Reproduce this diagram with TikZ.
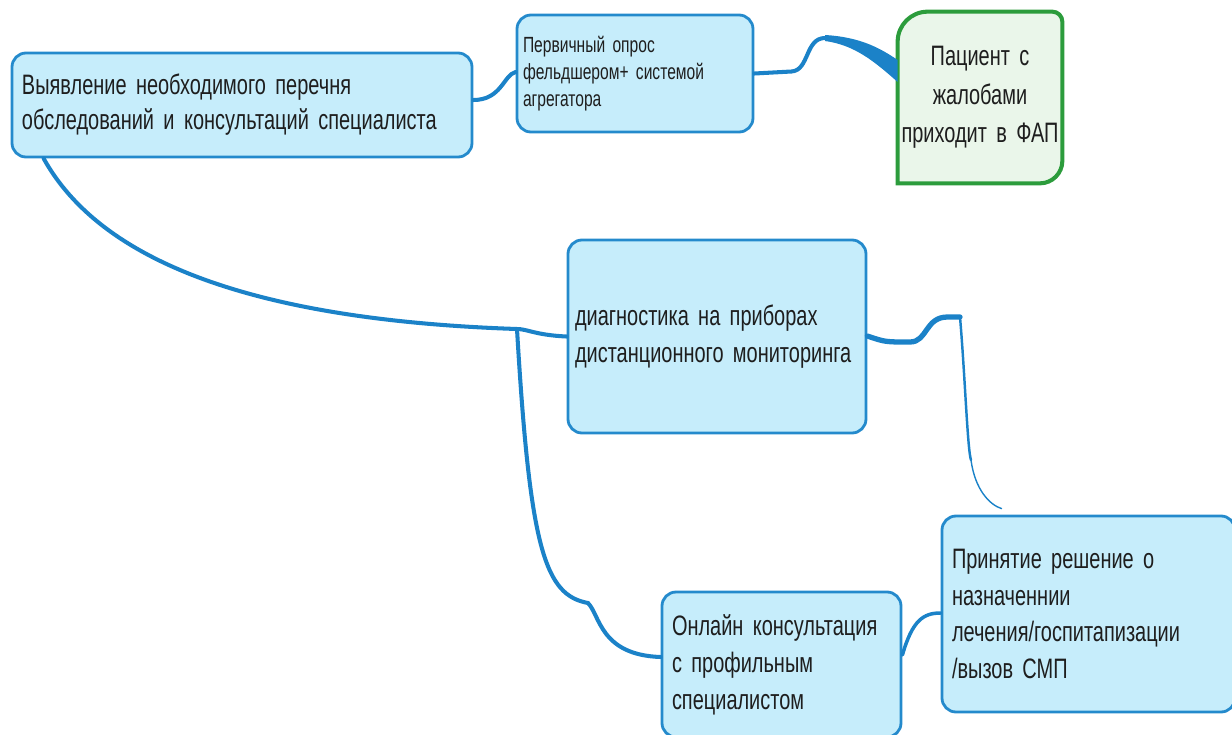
\documentclass[tikz,border=0pt]{standalone}
\usepackage{fontspec}
\setmainfont[FakeStretch=0.71]{Liberation Sans}
\usetikzlibrary{positioning, calc, backgrounds}

\definecolor{boxfill}{RGB}{198,237,251}
\definecolor{boxline}{RGB}{36,138,204}
\definecolor{linkblue}{RGB}{27,130,200}
\definecolor{pacfill}{RGB}{234,246,234}
\definecolor{pacline}{RGB}{44,156,60}
\definecolor{textgray}{RGB}{30,30,30}

\newcommand{\boxfont}[2]{\fontsize{#1}{#2}\selectfont\spaceskip=0.17em plus 0.05em minus 0.03em\relax}

\begin{document}
\begin{tikzpicture}[
    % Light blue rounded step box
    box/.style={draw=boxline, fill=boxfill, line width=1.6pt, rounded corners=0.28cm, align=left, inner xsep=0.2cm, text=textgray, font=\boxfont{16}{21}},
    % Small text box
    smallbox/.style={box, inner xsep=0.12cm, font=\boxfont{12.5}{15.5}},
    % Start box (green, drawn separately)
    startbox/.style={align=center, inner xsep=0cm, text=textgray, font=\boxfont{16}{21}},
    % Connector
    link/.style={draw=linkblue, line width=2.3pt, line cap=round}
]

\useasboundingbox (0,0) rectangle (24.64,-14.68);
\clip (0,0) rectangle (24.64,-14.68);

% ================= Nodes =================

\node[box, text width=8.8cm, minimum height=2.08cm] (perechen) at (4.84,-2.10)
    {Выявление необходимого перечня\\[-1pt]обследований и консультаций специалиста};
\node[smallbox, text width=4.48cm, minimum height=2.34cm] (opros) at (12.70,-1.47)
    {Первичный опрос\\фельдшером+ системой\\агрегатора};
\node[startbox, text width=3.28cm, minimum height=3.42cm] (pac) at (19.60,-1.95)
    {Пациент с\\[1pt]жалобами\\[1pt]приходит в ФАП};
\node[box, inner xsep=0.14cm, text width=5.68cm, minimum height=3.86cm] (diag) at (14.34,-6.73)
    {диагностика на приборах\\дистанционного мониторинга};
\node[box, text width=4.38cm, minimum height=2.9cm] (online) at (15.63,-13.29)
    {Онлайн консультация\\с профильным\\специалистом};
\node[box, text width=5.46cm, minimum height=3.92cm] (reshenie) at (21.77,-12.28)
    {Принятие решение о\\назначеннии\\лечения/госпитапизации\\/вызов СМП};

% green start box outline
\begin{scope}[on background layer]
\draw[draw=pacline, fill=pacfill, line width=2.3pt]
    (pac.south west) -- ([yshift=-0.6cm]pac.north west)
    arc[start angle=180, end angle=90, radius=0.6cm]
    -- ([xshift=-0.2cm]pac.north east)
    arc[start angle=90, end angle=0, radius=0.2cm]
    -- ([yshift=0.45cm]pac.south east)
    arc[start angle=0, end angle=-90, radius=0.45cm]
    -- cycle;
\end{scope}

% ================= Connections =================

\coordinate (fork) at (10.34,-6.58);
\coordinate (peak) at (16.50,-0.76);
\coordinate (hump) at (19.20,-6.34);
\coordinate (drop) at (19.42,-9.20);

% survey -> list
\draw[link] ([yshift=0.10cm]perechen.east) .. controls +(0.56,0) and +(-0.24,-0.06) .. ([yshift=0.03cm]opros.west);

% patient -> survey (tapered)
\draw[link] (opros.east) -- ++(0.74,0.04) .. controls +(0.36,0.02) and +(-0.4,0) .. (peak);
\fill[linkblue] ([yshift=0.06cm]peak) .. controls (17.2,-0.74) and (17.6,-0.96) .. ([yshift=0.75cm]pac.west)
    -- ([yshift=0.31cm]pac.west) .. controls (17.5,-1.24) and (17.1,-0.90) .. ([yshift=-0.06cm]peak) -- cycle;

% list -> diagnostics
\draw[link] ([xshift=0.66cm]perechen.south west) .. controls (2.0,-5.2) and (5.0,-6.4) .. (fork)
    .. controls (10.55,-6.58) and (10.7,-6.70) .. (diag.west);

% list -> online consultation
\draw[link] (fork) .. controls (10.6,-11.0) and (10.9,-11.9) .. (11.76,-12.06)
    .. controls (12.0,-12.3) and (12.0,-13.1) .. ([yshift=0.15cm]online.west);

% diagnostics -> decision (tapered)
\draw[link, line width=3pt] ([yshift=0.01cm]diag.east) .. controls (17.7,-6.84) .. (18.2,-6.84)
    .. controls (18.55,-6.84) and (18.5,-6.34) .. (18.95,-6.34) -- (hump);
\draw[link, line width=1.4pt] (hump) .. controls (19.3,-7.5) and (19.35,-9.0) .. (drop);
\draw[link, line width=0.8pt] (drop) .. controls (19.5,-9.8) and (19.8,-10.1) .. ([xshift=1.22cm, yshift=0.12cm]reshenie.north west);

% online consultation -> decision
\draw[link, line width=2pt] ([yshift=0.19cm]online.east) .. controls +(0.2,0.7) and +(-0.34,0) .. ([yshift=0.02cm]reshenie.west);

\end{tikzpicture}
\end{document}
